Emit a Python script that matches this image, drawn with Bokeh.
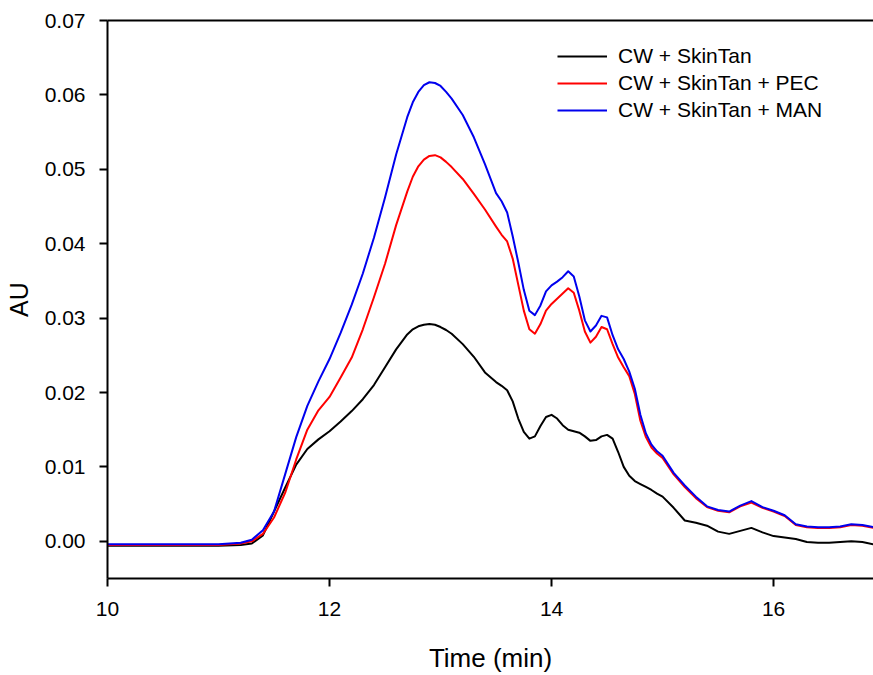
from bokeh.plotting import figure
from bokeh.models import Range1d, LinearAxis, Legend, LegendItem, FixedTicker, NumeralTickFormatter
from bokeh.embed import file_html
from bokeh.resources import INLINE

time_min = [10.0, 10.5, 11.0, 11.2, 11.3, 11.4, 11.5, 11.6, 11.7, 11.8, 11.9,
            12.0, 12.1, 12.2, 12.3, 12.4, 12.5, 12.6, 12.7, 12.75, 12.8, 12.85, 12.9, 12.95,
            13.0, 13.05, 13.1, 13.2, 13.3, 13.4, 13.5, 13.55, 13.6, 13.65, 13.7, 13.75,
            13.8, 13.85, 13.9, 13.95, 14.0, 14.05, 14.1, 14.15, 14.2, 14.25,
            14.3, 14.35, 14.4, 14.45, 14.5, 14.55, 14.6, 14.65, 14.7, 14.75,
            14.8, 14.85, 14.9, 14.95, 15.0, 15.1, 15.2, 15.3, 15.4, 15.5,
            15.6, 15.7, 15.8, 15.9, 16.0, 16.1, 16.2, 16.3, 16.4, 16.5,
            16.6, 16.7, 16.8, 16.9]

cw_skintan = [-0.0006, -0.0006, -0.0006, -0.0005, -0.0003, 0.0008, 0.0040, 0.0072, 0.0103, 0.0124, 0.0137,
              0.0148, 0.0161, 0.0175, 0.0191, 0.0210, 0.0234, 0.0258, 0.0278, 0.0285, 0.0289, 0.0291, 0.0292, 0.0291,
              0.0288, 0.0284, 0.0279, 0.0265, 0.0248, 0.0227, 0.0214, 0.0209, 0.0203, 0.0188, 0.0165, 0.0147,
              0.0138, 0.0141, 0.0155, 0.0167, 0.0170, 0.0165, 0.0156, 0.0150, 0.0148, 0.0146,
              0.0141, 0.0135, 0.0136, 0.0141, 0.0143, 0.0138, 0.0120, 0.0100, 0.0088, 0.0081,
              0.0077, 0.0073, 0.0069, 0.0064, 0.0060, 0.0045, 0.0028, 0.0025, 0.0021, 0.0013,
              0.0010, 0.0014, 0.0018, 0.0012, 0.0007, 0.0005, 0.0003, -0.0001, -0.0002, -0.0002,
              -0.0001, 0.0000, -0.0001, -0.0004]

cw_skintan_pec = [-0.0005, -0.0005, -0.0005, -0.0003, 0.0000, 0.0010, 0.0032, 0.0065, 0.0110, 0.0150, 0.0176,
                  0.0194, 0.0220, 0.0247, 0.0285, 0.0328, 0.0373, 0.0425, 0.0470, 0.0490, 0.0504, 0.0513, 0.0518, 0.0519,
                  0.0516, 0.0510, 0.0503, 0.0487, 0.0467, 0.0446, 0.0423, 0.0412, 0.0403, 0.0380, 0.0345, 0.0310,
                  0.0285, 0.0279, 0.0292, 0.0310, 0.0319, 0.0326, 0.0333, 0.0340, 0.0334, 0.0310,
                  0.0282, 0.0267, 0.0275, 0.0288, 0.0285, 0.0265, 0.0247, 0.0234, 0.0222, 0.0198,
                  0.0162, 0.0140, 0.0126, 0.0118, 0.0112, 0.0090, 0.0073, 0.0058, 0.0046, 0.0041,
                  0.0039, 0.0047, 0.0052, 0.0045, 0.0040, 0.0034, 0.0022, 0.0019, 0.0018, 0.0018,
                  0.0019, 0.0022, 0.0021, 0.0018]

cw_skintan_man = [-0.0004, -0.0004, -0.0004, -0.0002, 0.0002, 0.0015, 0.0040, 0.0090, 0.0140, 0.0182, 0.0215,
                  0.0245, 0.0280, 0.0318, 0.0360, 0.0408, 0.0462, 0.0520, 0.0570, 0.0590, 0.0604, 0.0613, 0.0617, 0.0616,
                  0.0612, 0.0604, 0.0595, 0.0573, 0.0543, 0.0507, 0.0468, 0.0457, 0.0442, 0.0410, 0.0375, 0.0338,
                  0.0310, 0.0304, 0.0317, 0.0336, 0.0344, 0.0349, 0.0355, 0.0363, 0.0356, 0.0329,
                  0.0297, 0.0282, 0.0290, 0.0303, 0.0301, 0.0277, 0.0258, 0.0245, 0.0228, 0.0205,
                  0.0170, 0.0145, 0.0130, 0.0121, 0.0115, 0.0092, 0.0075, 0.0060, 0.0047, 0.0042,
                  0.0040, 0.0048, 0.0054, 0.0046, 0.0041, 0.0035, 0.0023, 0.0020, 0.0019, 0.0019,
                  0.0020, 0.0023, 0.0022, 0.0019]

series_labels = ["CW + SkinTan", "CW + SkinTan + PEC", "CW + SkinTan + MAN"]
x_ticks = [10, 12, 14, 16]
y_ticks = [0.0, 0.01, 0.02, 0.03, 0.04, 0.05, 0.06, 0.07]

FONT = "Liberation Sans"

p = figure(width=873, height=675, x_range=Range1d(10, 16.9), y_range=Range1d(-0.005, 0.07),
           output_backend="svg", toolbar_location=None,
           min_border_left=107, min_border_right=0, min_border_top=20, min_border_bottom=96)
p.grid.visible = False
p.outline_line_color = None
p.background_fill_color = "white"
p.border_fill_color = "white"

r1 = p.line(time_min, cw_skintan, line_color="black", line_width=2, line_join="round")
r2 = p.line(time_min, cw_skintan_pec, line_color="#ff0000", line_width=2, line_join="round")
r3 = p.line(time_min, cw_skintan_man, line_color="#0000ee", line_width=2, line_join="round")

for ax in (p.xaxis[0], p.yaxis[0]):
    ax.axis_line_width = 2
    ax.axis_line_color = "black"
    ax.major_tick_line_width = 2
    ax.major_tick_in = 0
    ax.major_tick_out = 8
    ax.minor_tick_line_color = None
    ax.major_label_text_font = FONT
    ax.major_label_text_font_size = "21px"
    ax.major_label_text_color = "black"
    ax.axis_label_text_font = FONT
    ax.axis_label_text_font_size = "26px"
    ax.axis_label_text_font_style = "normal"
    ax.axis_label_text_color = "black"

p.xaxis[0].ticker = FixedTicker(ticks=x_ticks)
p.yaxis[0].ticker = FixedTicker(ticks=y_ticks)
p.yaxis[0].formatter = NumeralTickFormatter(format="0.00")
p.xaxis[0].axis_label = "Time (min)"
p.yaxis[0].axis_label = "AU"
p.yaxis[0].axis_label_text_font_size = "25px"
p.xaxis[0].major_label_standoff = 15
p.xaxis[0].axis_label_standoff = 24
p.yaxis[0].major_label_standoff = 14
p.yaxis[0].axis_label_standoff = 9

top = LinearAxis(axis_line_width=2, axis_line_color="black", major_tick_line_color=None,
                 minor_tick_line_color=None, major_label_text_font_size="0px",
                 major_label_text_color=None)
top.ticker = FixedTicker(ticks=[])
p.add_layout(top, "above")

legend = Legend(items=[LegendItem(label=series_labels[0], renderers=[r1]),
                       LegendItem(label=series_labels[1], renderers=[r2]),
                       LegendItem(label=series_labels[2], renderers=[r3])],
                location=(450, 456), glyph_width=50, glyph_height=20, label_height=20,
                label_standoff=11, padding=0, margin=0, spacing=3,
                border_line_color=None, background_fill_alpha=0,
                label_text_font=FONT, label_text_font_size="21px", label_text_color="black")
p.add_layout(legend)

open("out.html", "w").write(file_html(p, INLINE))
